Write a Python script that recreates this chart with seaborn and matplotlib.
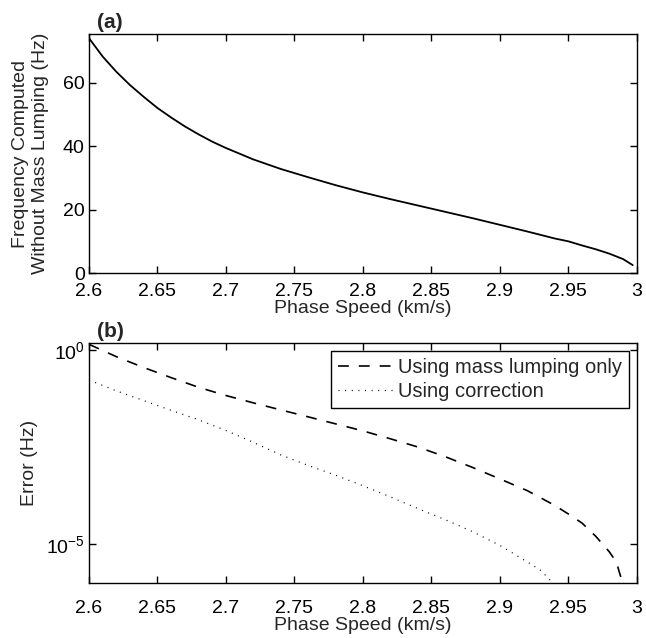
import numpy as np
import pandas as pd
import matplotlib
matplotlib.use("Agg")
import matplotlib.pyplot as plt
import seaborn as sns

sns.set_style("ticks")
plt.rcParams["font.family"] = ["Liberation Sans", "DejaVu Sans"]
plt.rcParams["font.size"] = 14
plt.rcParams["mathtext.fontset"] = "custom"
plt.rcParams["mathtext.rm"] = "Liberation Sans"
plt.rcParams["mathtext.it"] = "Liberation Sans:italic"

# (a) Frequenz ohne Mass Lumping
speed_a = [2.60, 2.61, 2.62, 2.63, 2.64, 2.65, 2.66, 2.67, 2.68, 2.69, 2.70,
           2.72, 2.74, 2.76, 2.78, 2.80, 2.82, 2.84, 2.86, 2.88, 2.90, 2.92,
           2.94, 2.95, 2.96, 2.97, 2.98, 2.99, 2.997]
freq_a = [74.0, 68.2, 63.4, 59.2, 55.5, 52.0, 49.0, 46.2, 43.7, 41.4, 39.4,
          35.8, 32.8, 30.2, 27.7, 25.4, 23.3, 21.3, 19.3, 17.3, 15.2, 13.1,
          10.9, 10.0, 8.7, 7.5, 6.1, 4.4, 2.5]

# (b) Fehler
speed_lump = [2.60, 2.62, 2.64, 2.66, 2.68, 2.70, 2.72, 2.74, 2.76, 2.78, 2.80,
              2.82, 2.84, 2.86, 2.88, 2.90, 2.92, 2.94, 2.95, 2.96, 2.97, 2.98,
              2.985, 2.99]
err_lump = [1.41, 0.676, 0.355, 0.195, 0.110, 0.0676, 0.0437, 0.0288, 0.0191,
            0.0126, 8.3e-3, 5.2e-3, 3.2e-3, 1.8e-3, 9.5e-4, 4.8e-4, 2.4e-4,
            1.0e-4, 6.0e-5, 3.5e-5, 1.6e-5, 6.3e-6, 3.5e-6, 8.9e-7]

speed_corr = [2.60, 2.62, 2.64, 2.66, 2.68, 2.70, 2.72, 2.74, 2.76, 2.78, 2.80,
              2.82, 2.84, 2.86, 2.88, 2.90, 2.92, 2.93, 2.94]
err_corr = [0.17, 0.089, 0.050, 0.028, 0.016, 8.5e-3, 4.2e-3, 2.0e-3, 1.07e-3,
            6.0e-4, 3.2e-4, 1.66e-4, 8.3e-5, 4.3e-5, 2.1e-5, 9.3e-6, 3.5e-6,
            2.1e-6, 8.9e-7]

xticks = [2.6, 2.65, 2.7, 2.75, 2.8, 2.85, 2.9, 2.95, 3.0]
xticklabels = ["2.6", "2.65", "2.7", "2.75", "2.8", "2.85", "2.9", "2.95", "3"]

fig = plt.figure(figsize=(6.46, 6.38), dpi=100)
ax1 = fig.add_axes([0.1378, 0.572, 0.848, 0.3746])
ax2 = fig.add_axes([0.1378, 0.0862, 0.848, 0.376])

sns.lineplot(x=speed_a, y=freq_a, ax=ax1, color="k", lw=1.3)
ax1.set_xlim(2.6, 3.0)
ax1.set_ylim(0, 75.3)
ax1.set_yticks([0, 20, 40, 60])
ax1.set_ylabel("Frequency Computed\nWithout Mass Lumping (Hz)", labelpad=10,
               linespacing=1.25)

sns.lineplot(x=speed_lump, y=err_lump, ax=ax2, color="k", lw=1.2,
             linestyle=(0, (6.5, 6)), label="Using mass lumping only")
sns.lineplot(x=speed_corr, y=err_corr, ax=ax2, color="k", lw=0.9,
             linestyle=(0, (0.8, 4.5)), label="Using correction")
ax2.set_yscale("log")
ax2.set_xlim(2.6, 3.0)
ax2.set_ylim(1e-6, 10 ** 0.18)
ax2.set_yticks([1e-5, 1e0])
ax2.set_yticklabels([r"$10^{-5}$", r"$10^{0}$"])
ax2.yaxis.set_minor_locator(matplotlib.ticker.NullLocator())
ax2.set_ylabel("Error (Hz)", labelpad=6)
leg = ax2.legend(loc="upper right", fancybox=False, framealpha=1,
                 edgecolor="k", handlelength=2.7, borderaxespad=0.4,
                 handletextpad=0.25, borderpad=0.35, labelspacing=0.25,
                 fontsize=14.5)
leg.get_frame().set_linewidth(1.0)

for ax, tag, xpad in [(ax1, "(a)", 7), (ax2, "(b)", 12)]:
    ax.set_xticks(xticks)
    ax.set_xticklabels(xticklabels)
    ax.set_xlabel("Phase Speed (km/s)", labelpad=0)
    ax.tick_params(direction="in", top=True, right=True, length=5, width=1,
                   pad=3, colors="k")
    ax.tick_params(axis="x", pad=xpad)
    for s in ax.spines.values():
        s.set_linewidth(1.0)
        s.set_color("k")
    ax.text(0.015, 1.01, tag, transform=ax.transAxes, va="bottom",
            ha="left", fontweight="bold", fontsize=15)

# "0" sitzt im Original knapp ueber "2.6"
for lab in ax1.get_yticklabels():
    lab.set_va("center_baseline")

fig.savefig("out.png", dpi=100)
